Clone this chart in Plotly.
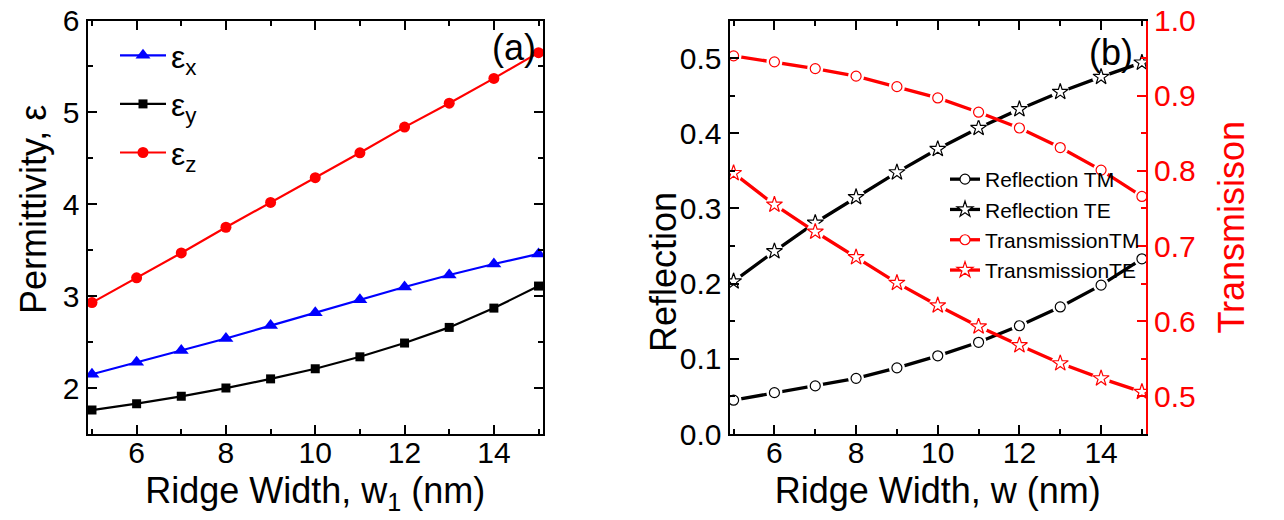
import plotly.graph_objects as go

# ---------------- data ----------------
width_nm = [5, 6, 7, 8, 9, 10, 11, 12, 13, 14, 15]

eps_x = [2.15, 2.28, 2.41, 2.54, 2.68, 2.82, 2.96, 3.10, 3.23, 3.35, 3.46]
eps_y = [1.76, 1.83, 1.91, 2.00, 2.10, 2.21, 2.34, 2.49, 2.66, 2.87, 3.11]
eps_z = [2.93, 3.20, 3.47, 3.75, 4.02, 4.29, 4.56, 4.84, 5.10, 5.37, 5.65]

refl_tm = [0.045, 0.055, 0.064, 0.074, 0.088, 0.104, 0.122, 0.144, 0.169, 0.198, 0.233]
refl_te = [0.203, 0.243, 0.281, 0.315, 0.348, 0.379, 0.407, 0.432, 0.455, 0.475, 0.494]
trans_tm = [0.953, 0.945, 0.936, 0.926, 0.912, 0.897, 0.878, 0.857, 0.831, 0.801, 0.766]
trans_te = [0.797, 0.755, 0.719, 0.685, 0.651, 0.621, 0.593, 0.568, 0.544, 0.524, 0.506]

# ---------------- layout helpers ----------------
W, H = 1284, 520
FONT = "Liberation Sans, Arial, sans-serif"


def px(x):
    return x / W


def py(y):
    return 1 - y / H


dom_a = [px(87.5), px(543)]
dom_b = [px(729.5), px(1146)]
dom_y = [py(434), py(20.5)]

fig = go.Figure()

# ---------------- panel (a) ----------------
fig.add_trace(go.Scatter(
    x=width_nm, y=eps_x, mode="lines+markers", name="ε<sub>x</sub>",
    line=dict(color="#0000ff", width=2.2),
    marker=dict(symbol="triangle-up", size=13, color="#0000ff"),
    xaxis="x", yaxis="y", legend="legend", legendgroup="a1"))
fig.add_trace(go.Scatter(
    x=width_nm, y=eps_y, mode="lines+markers", name="ε<sub>y</sub>",
    line=dict(color="black", width=2.2),
    marker=dict(symbol="square", size=9, color="black"),
    xaxis="x", yaxis="y", legend="legend", legendgroup="a2"))
fig.add_trace(go.Scatter(
    x=width_nm, y=eps_z, mode="lines+markers", name="ε<sub>z</sub>",
    line=dict(color="#ff0000", width=2.2),
    marker=dict(symbol="circle", size=11, color="#ff0000"),
    xaxis="x", yaxis="y", legend="legend", legendgroup="a3"))

# ---------------- panel (b) ----------------
series_b = [
    ("Reflection TM", refl_tm, "black", "circle", 10, "y2"),
    ("Reflection TE", refl_te, "black", "star", 12, "y2"),
    ("TransmissionTM", trans_tm, "#ff0000", "circle", 10, "y3"),
    ("TransmissionTE", trans_te, "#ff0000", "star", 12, "y3"),
]
for name, vals, col, sym, sz, yax in series_b:
    fig.add_trace(go.Scatter(
        x=width_nm, y=vals, mode="lines+markers", name=name,
        line=dict(color=col, width=3.3),
        marker=dict(symbol=sym, size=sz, color="white", line=dict(color=col, width=1.2)),
        xaxis="x2", yaxis=yax, legend="legend2"))
for name, vals, col, sym, sz, yax in series_b:
    # white halo to leave a small gap between line and symbol
    fig.add_trace(go.Scatter(
        x=width_nm, y=vals, mode="markers", showlegend=False, hoverinfo="skip",
        marker=dict(symbol="circle", size=sz + 6, color="white"),
        xaxis="x2", yaxis=yax))
for name, vals, col, sym, sz, yax in series_b:
    fig.add_trace(go.Scatter(
        x=width_nm, y=vals, mode="markers", showlegend=False,
        marker=dict(symbol=sym, size=sz, color="white", line=dict(color=col, width=1.2)),
        xaxis="x2", yaxis=yax))

TICKF = dict(family=FONT, size=30, color="black")
TITLEF = dict(family=FONT, size=36, color="black")

common_x = dict(
    range=[4.9, 15.1], dtick=2, tick0=0, ticks="inside", ticklen=9, tickwidth=1.5,
    tickcolor="black", showline=True, linecolor="black", linewidth=2,
    mirror="ticks", showgrid=False, zeroline=False, tickfont=TICKF,
    ticklabelstandoff=-9,
    minor=dict(ticks="inside", ticklen=5, tickwidth=1.5, dtick=1, tick0=1, tickcolor="black"),
    automargin=False,
)

fig.update_layout(
    width=W, height=H,
    margin=dict(l=0, r=0, t=0, b=0),
    paper_bgcolor="white", plot_bgcolor="white",
    font=dict(family=FONT, color="black"),
    xaxis=dict(domain=dom_a, anchor="y",
               title=dict(text="Ridge Width, w<sub>1</sub> (nm)", font=TITLEF, standoff=10),
               **common_x),
    yaxis=dict(domain=dom_y, anchor="x", range=[1.5, 6], dtick=1, ticks="inside",
               ticklen=9, tickwidth=1.5, tickcolor="black", showline=True,
               linecolor="black", linewidth=2, mirror="ticks", showgrid=False,
               zeroline=False, tickfont=TICKF, automargin=False,
               minor=dict(ticks="inside", ticklen=5, tickwidth=1.5, dtick=0.5,
                          tickcolor="black")),
    xaxis2=dict(domain=dom_b, anchor="y2",
                title=dict(text="Ridge Width, w (nm)", font=TITLEF, standoff=10),
                **common_x),
    yaxis2=dict(domain=dom_y, anchor="x2", range=[0, 0.55], dtick=0.1,
                tickformat=".1f", ticks="inside", ticklen=9, tickwidth=1.5,
                tickcolor="black", showline=True, linecolor="black", linewidth=2,
                mirror=False, showgrid=False, zeroline=False, tickfont=TICKF,
                automargin=False,
                minor=dict(ticks="inside", ticklen=5, tickwidth=1.5, dtick=0.05,
                           tickcolor="black")),
    yaxis3=dict(domain=dom_y, anchor="x2", overlaying="y2", side="right",
                range=[0.45, 1.0], dtick=0.1, tick0=0, tickformat=".1f",
                ticks="inside", ticklen=9, tickwidth=1.5, tickcolor="#ff0000",
                showline=True, linecolor="#ff0000", linewidth=2, showgrid=False,
                zeroline=False, automargin=False,
                tickfont=dict(family=FONT, size=30, color="#ff0000"),
                minor=dict(ticks="inside", ticklen=5, tickwidth=1.5, dtick=0.05,
                           tickcolor="#ff0000"),
                title=dict(text="Transmisison",
                           font=dict(family=FONT, size=36, color="#ff0000"),
                           standoff=24)),
    legend=dict(x=px(115), y=py(28), xanchor="left", yanchor="top",
                bgcolor="rgba(0,0,0,0)", borderwidth=0, itemwidth=46,
                tracegroupgap=4, traceorder="grouped",
                font=dict(family=FONT, size=32, color="black")),
    legend2=dict(x=px(945), y=py(159), xanchor="left", yanchor="top",
                 bgcolor="rgba(0,0,0,0)", borderwidth=0, itemwidth=30,
                 font=dict(family=FONT, size=21, color="black")),
    annotations=[
        dict(text="(a)", x=px(514), y=py(47), xref="paper", yref="paper",
             xanchor="center", yanchor="middle",
             showarrow=False, font=dict(family=FONT, size=36, color="black")),
        dict(text="(b)", x=px(1111), y=py(53), xref="paper", yref="paper",
             xanchor="center", yanchor="middle",
             showarrow=False, font=dict(family=FONT, size=36, color="black")),
        dict(text="Permittivity, ε", x=px(33), y=py(210), xref="paper", yref="paper",
             xanchor="center", yanchor="middle", textangle=-90,
             showarrow=False, font=TITLEF),
        dict(text="Reflection", x=px(663), y=py(272), xref="paper", yref="paper",
             xanchor="center", yanchor="middle", textangle=-90,
             showarrow=False, font=TITLEF),
    ],
)

fig.write_html("out.html",
               config={"displayModeBar": False},
               post_script="document.body.style.margin='0';document.body.style.padding='0';")
